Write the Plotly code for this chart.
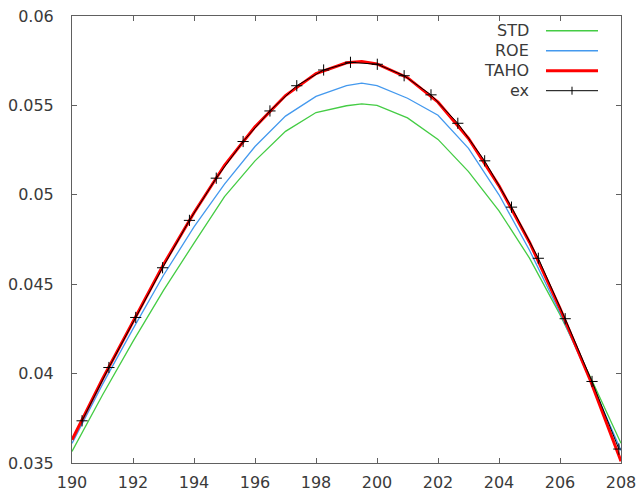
import plotly.graph_objects as go

# ---- data ----
x_curve = [190, 191, 192, 193, 194, 195, 196, 197, 198, 199, 199.5,
           200, 201, 202, 203, 204, 205, 206, 207, 208]
std_vals = [0.03565, 0.0388, 0.0418, 0.04465, 0.0473, 0.0499, 0.0519, 0.05355, 0.0546, 0.05498, 0.05508,
            0.0550, 0.0543, 0.0531, 0.0513, 0.0491, 0.04646, 0.0433, 0.0398, 0.0361]
roe_vals = [0.0361, 0.0394, 0.0425, 0.0455, 0.0482, 0.0506, 0.0527, 0.0544, 0.0555, 0.0561, 0.05625,
            0.0561, 0.0554, 0.05445, 0.0526, 0.0500, 0.0469, 0.0434, 0.0396, 0.0357]
taho_vals = [0.0363, 0.0397, 0.0429, 0.0461, 0.0490, 0.05165, 0.0538, 0.05555, 0.05678, 0.05738, 0.05745,
             0.05732, 0.05655, 0.05518, 0.05315, 0.0505, 0.04735, 0.04365, 0.0396, 0.0351]

x_ex = [190.33, 191.21, 192.09, 192.97, 193.85, 194.73, 195.61, 196.49, 197.37, 198.25, 199.13,
        200.01, 200.89, 201.77, 202.65, 203.53, 204.41, 205.29, 206.17, 207.05, 207.93]
ex_vals = [0.03736, 0.04034, 0.04314, 0.04592, 0.04857, 0.05093, 0.05298, 0.05469, 0.05610, 0.05698, 0.05741,
           0.05730, 0.05666, 0.05559, 0.05400, 0.05190, 0.04931, 0.04645, 0.04307, 0.03956, 0.03578]

x_ticks = [190, 192, 194, 196, 198, 200, 202, 204, 206, 208]
x_ticktext = ["190", "192", "194", "196", "198", "200", "202", "204", "206", "208"]
y_ticks = [0.035, 0.04, 0.045, 0.05, 0.055, 0.06]
y_ticktext = ["0.035", "0.04", "0.045", "0.05", "0.055", "0.06"]

series_names = ["STD", "ROE", "TAHO", "ex"]
series_colors = ["#44cc44", "#4499ee", "#ff0000", "#000000"]

FONT = "DejaVu Sans"
TXT = "#3a3a3a"
AX = "#606060"

fig = go.Figure()
fig.add_trace(go.Scatter(x=x_curve, y=std_vals, mode="lines", name=series_names[0],
                         line=dict(color=series_colors[0], width=1.3), showlegend=False))
fig.add_trace(go.Scatter(x=x_curve, y=roe_vals, mode="lines", name=series_names[1],
                         line=dict(color=series_colors[1], width=1.3), showlegend=False))
fig.add_trace(go.Scatter(x=x_curve, y=taho_vals, mode="lines", name=series_names[2],
                         line=dict(color=series_colors[2], width=3), showlegend=False))
fig.add_trace(go.Scatter(x=x_ex, y=ex_vals, mode="lines+markers", name=series_names[3],
                         line=dict(color=series_colors[3], width=1),
                         marker=dict(symbol="cross-thin", size=8, line=dict(color="black", width=1)),
                         showlegend=False))

ml, mr, mt, mb = 72, 18, 16, 29
W, H = 639, 492
pw, ph = W - ml - mr, H - mt - mb

def px2paper(px, py):
    return (px - ml) / pw, (H - mb - py) / ph

shapes = []
annotations = []
row_y = [30.7, 50.7, 70.7, 90.7]
widths = [1.5, 1.5, 3, 1]
for i, name in enumerate(series_names):
    tx, ty = px2paper(531, row_y[i])
    annotations.append(dict(x=tx, y=ty, xref="paper", yref="paper", text=name, showarrow=False,
                            xanchor="right", yanchor="middle", font=dict(family=FONT, size=16, color=TXT)))
    x0, y0 = px2paper(546, row_y[i])
    x1, _ = px2paper(598, row_y[i])
    shapes.append(dict(type="line", xref="paper", yref="paper", x0=x0, x1=x1, y0=y0, y1=y0,
                       line=dict(color=series_colors[i], width=widths[i])))
# cross on ex sample
cx0, cy0 = px2paper(572, row_y[3] - 4)
cx1, cy1 = px2paper(572, row_y[3] + 4)
shapes.append(dict(type="line", xref="paper", yref="paper", x0=cx0, x1=cx1, y0=cy0, y1=cy1,
                   line=dict(color="black", width=1)))

fig.update_layout(
    width=W, height=H,
    margin=dict(l=ml, r=mr, t=mt, b=mb, pad=0, autoexpand=False),
    paper_bgcolor="white", plot_bgcolor="white",
    shapes=shapes, annotations=annotations,
    showlegend=False,
)
fig.update_xaxes(range=[190, 208], tickvals=x_ticks, ticktext=x_ticktext, automargin=False,
                 showgrid=False, zeroline=False, showline=True, linecolor=AX, linewidth=1,
                 mirror="ticks", ticks="inside", ticklen=5, tickcolor=AX,
                 tickfont=dict(family=FONT, size=16, color=TXT), ticklabelstandoff=5)
fig.update_yaxes(range=[0.035, 0.06], tickvals=y_ticks, ticktext=y_ticktext, automargin=False,
                 showgrid=False, zeroline=False, showline=True, linecolor=AX, linewidth=1,
                 mirror="ticks", ticks="inside", ticklen=5, tickcolor=AX,
                 tickfont=dict(family=FONT, size=16, color=TXT), ticklabelstandoff=14)

fig.write_html("out.html", config={"displayModeBar": False},
               post_script="document.body.style.margin='0';document.body.style.overflow='hidden';")
